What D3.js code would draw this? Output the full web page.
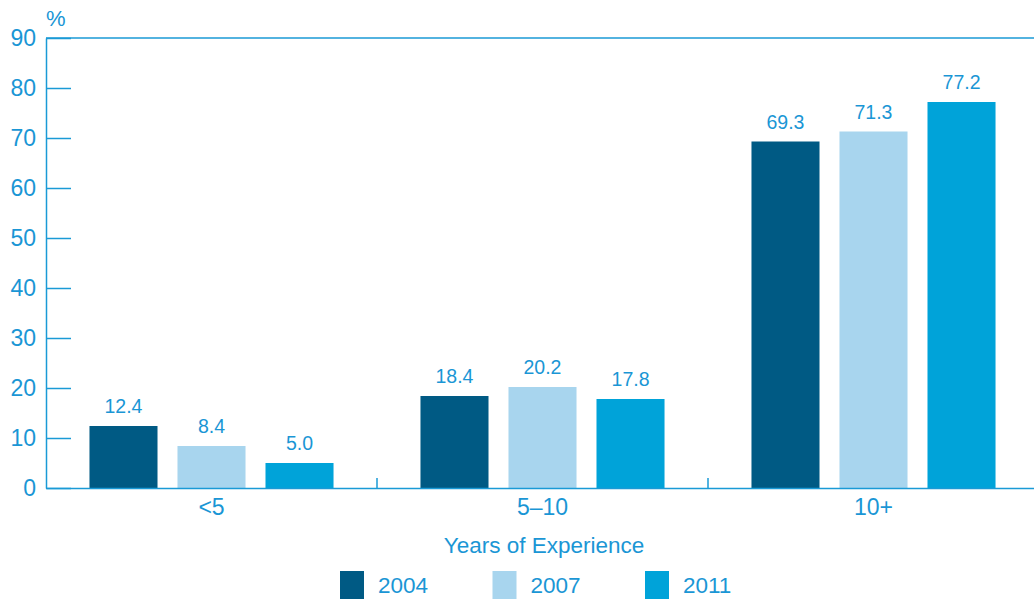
<!DOCTYPE html>
<html>
<head>
<meta charset="utf-8">
<script src="https://cdn.jsdelivr.net/npm/d3@7/dist/d3.min.js"></script>
<style>
  html, body { margin: 0; padding: 0; background: #fff; }
  svg { display: block; font-family: "Liberation Sans", Arial, sans-serif; }
</style>
</head>
<body>
<svg id="chart" width="1034" height="599"></svg>
<script>
const categories = ["<5", "5\u201310", "10+"];
const years = ["2004", "2007", "2011"];
const values2004 = [12.4, 18.4, 69.3];
const values2007 = [8.4, 20.2, 71.3];
const values2011 = [5.0, 17.8, 77.2];
const yTicks = [0, 10, 20, 30, 40, 50, 60, 70, 80, 90];
const colors = ["#005a84", "#a8d5ee", "#00a3d9"];

const series = [values2004, values2007, values2011];
const textColor = "#1a96d5";
const lineColor = "#1a9ad6";

const svg = d3.select("#chart");
const mLeft = 46, mRight = 1039, mTop = 38, mBottom = 488;

const x = d3.scaleBand().domain(categories).range([mLeft, mRight]).padding(0);
const xi = d3.scaleBand().domain(years).range([0, x.bandwidth()])
  .paddingInner(0.227).paddingOuter(0.494);
const y = d3.scaleLinear().domain([0, 90]).range([mBottom, mTop]);

// top line
svg.append("line").attr("x1", mLeft).attr("x2", 1034).attr("y1", y(90)).attr("y2", y(90))
  .attr("stroke", lineColor).attr("stroke-width", 1.5);

// y axis
const yAxis = svg.append("g").attr("transform", `translate(${mLeft},0)`)
  .call(d3.axisLeft(y).tickValues(yTicks).tickSize(-25).tickSizeOuter(0).tickPadding(10));
yAxis.selectAll("path, line").attr("stroke", lineColor).attr("stroke-width", 1.5);
yAxis.selectAll("text").attr("fill", textColor).attr("font-size", 23)
  .attr("font-family", "'Liberation Sans', Arial, sans-serif");

// bars
const groups = svg.append("g").selectAll("g").data(categories).join("g")
  .attr("transform", d => `translate(${x(d)},0)`);
groups.each(function(cat, ci) {
  const g = d3.select(this);
  years.forEach((yr, si) => {
    const v = series[si][ci];
    g.append("rect").attr("x", xi(yr)).attr("width", xi.bandwidth())
      .attr("y", y(v)).attr("height", y(0) - y(v)).attr("fill", colors[si]);
    g.append("text").attr("x", xi(yr) + xi.bandwidth() / 2).attr("y", y(v) - 13)
      .attr("text-anchor", "middle").attr("fill", textColor).attr("font-size", 19.5)
      .text(v.toFixed(1));
  });
});

// x axis
const xAxis = svg.append("g").attr("transform", `translate(0,${mBottom})`)
  .call(d3.axisBottom(x).tickSize(0).tickSizeOuter(0).tickPadding(11));
xAxis.select(".domain").attr("stroke", lineColor).attr("stroke-width", 1.5);
xAxis.selectAll("text").attr("fill", textColor).attr("font-size", 23)
  .attr("font-family", "'Liberation Sans', Arial, sans-serif");

// boundary ticks
svg.append("g").selectAll("line").data(categories.slice(1)).join("line")
  .attr("x1", d => x(d)).attr("x2", d => x(d)).attr("y1", mBottom - 10).attr("y2", mBottom)
  .attr("stroke", lineColor).attr("stroke-width", 1.5);

// unit label
svg.append("text").attr("x", 46).attr("y", 26).attr("fill", textColor)
  .attr("font-size", 22).text("%");

// axis title
svg.append("text").attr("x", 544).attr("y", 553).attr("text-anchor", "middle")
  .attr("fill", textColor).attr("font-size", 22.5).text("Years of Experience");

// legend
const legend = svg.append("g").selectAll("g").data(years).join("g")
  .attr("transform", (d, i) => `translate(${340 + i * 152.5},571)`);
legend.append("rect").attr("width", 24).attr("height", 30).attr("fill", (d, i) => colors[i]);
legend.append("text").attr("x", 38).attr("y", 22).attr("fill", textColor)
  .attr("font-size", 22.5).text(d => d);
</script>
</body>
</html>
